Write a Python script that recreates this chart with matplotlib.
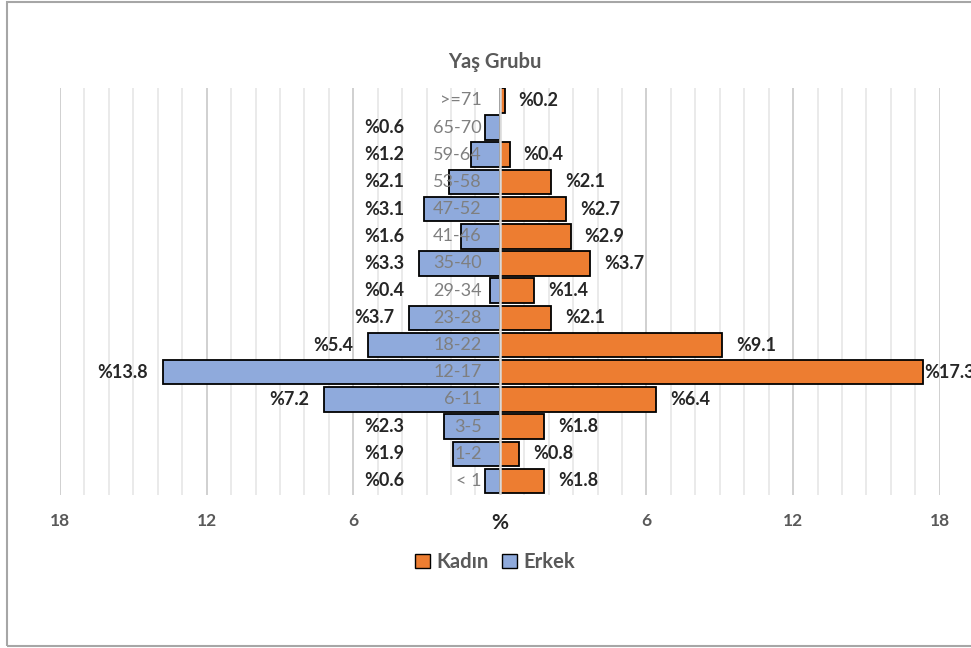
import numpy as np
import matplotlib
matplotlib.use('Agg')
import matplotlib.pyplot as plt
from matplotlib.patches import Rectangle, Patch

plt.rcParams['font.family'] = ['Lato', 'DejaVu Sans']

# age groups, bottom to top
groups = ['< 1', '1-2', '3-5', '6-11', '12-17', '18-22', '23-28', '29-34',
          '35-40', '41-46', '47-52', '53-58', '59-64', '65-70', '>=71']
erkek = [0.6, 1.9, 2.3, 7.2, 13.8, 5.4, 3.7, 0.4, 3.3, 1.6, 3.1, 2.1, 1.2, 0.6, 0.0]
kadin = [1.8, 0.8, 1.8, 6.4, 17.3, 9.1, 2.1, 1.4, 3.7, 2.9, 2.7, 2.1, 0.4, 0.0, 0.2]
ticks = [-18, -12, -6, 0, 6, 12, 18]
tick_labels = ['18', '12', '6', '%', '6', '12', '18']

orange = '#ED7D31'
blue = '#8FAADC'
gray = '#595959'

fig = plt.figure(figsize=(9.71, 6.48), dpi=100)
ax = fig.add_axes([0.0618, 0.236, 0.906, 0.628])

y = np.arange(len(groups))
ax.barh(y, [-v for v in erkek], height=0.9, color=blue, edgecolor='black',
        linewidth=1.3, zorder=2)
ax.barh(y, kadin, height=0.9, color=orange, edgecolor='black',
        linewidth=1.3, zorder=2)

ax.set_xlim(-18, 18)
ax.set_ylim(-0.52, 14.45)

# gridlines: every unit, darker at major ticks
for gx in range(-18, 19):
    if gx == 0:
        continue
    c = '#C8C8C8' if gx % 6 == 0 else '#E6E6E6'
    ax.axvline(gx, color=c, linewidth=1.2, zorder=0)
ax.axvline(0, color='#D9D9D9', linewidth=1.8, zorder=3)

for i, g in enumerate(groups):
    ax.text(-0.75, i, g, ha='right', va='center', fontsize=13,
            color='#7F7F7F', zorder=4)
    if erkek[i] > 0:
        lx = min(-erkek[i] - 0.6, -3.9)
        ax.text(lx, i, '%' + str(erkek[i]), ha='right', va='center',
                fontsize=13, fontweight='bold', color='#262626', zorder=4)
    if kadin[i] > 0:
        rx = min(kadin[i] + 0.57, 17.35)
        ax.text(rx, i, '%' + str(kadin[i]), ha='left', va='center',
                fontsize=13, fontweight='bold', color='#262626',
                zorder=4, clip_on=False)

ax.set_xticks(ticks)
ax.set_xticklabels(tick_labels)
ax.set_yticks([])
for s in ax.spines.values():
    s.set_visible(False)
ax.tick_params(axis='x', length=0, pad=13)
for i, t in enumerate(ax.get_xticklabels()):
    t.set_fontweight('bold')
    if tick_labels[i] == '%':
        t.set_color('#262626')
        t.set_fontsize(15)
    else:
        t.set_color(gray)
        t.set_fontsize(12.5)

fig.text(495 / 971, 1 - 62 / 648, 'Yaş Grubu', ha='center', va='center',
         fontsize=14.5, fontweight='bold', color=gray)

handles = [Patch(facecolor=orange, edgecolor='black', label='Kadın'),
           Patch(facecolor=blue, edgecolor='black', label='Erkek')]
fig.legend(handles=handles, loc='center', bbox_to_anchor=(495 / 971, 1 - 562 / 648),
           ncol=2, frameon=False, labelcolor=gray,
           handlelength=0.75, handleheight=0.75, handletextpad=0.3, columnspacing=0.7,
           prop={'weight': 'bold', 'size': 14.5})

fig.patches.append(Rectangle((7 / 971, 2 / 648), 1.0, 644 / 648,
                             transform=fig.transFigure, fill=False,
                             edgecolor='#A6A6A6', linewidth=1.5))

fig.savefig('out.png', dpi=100)
